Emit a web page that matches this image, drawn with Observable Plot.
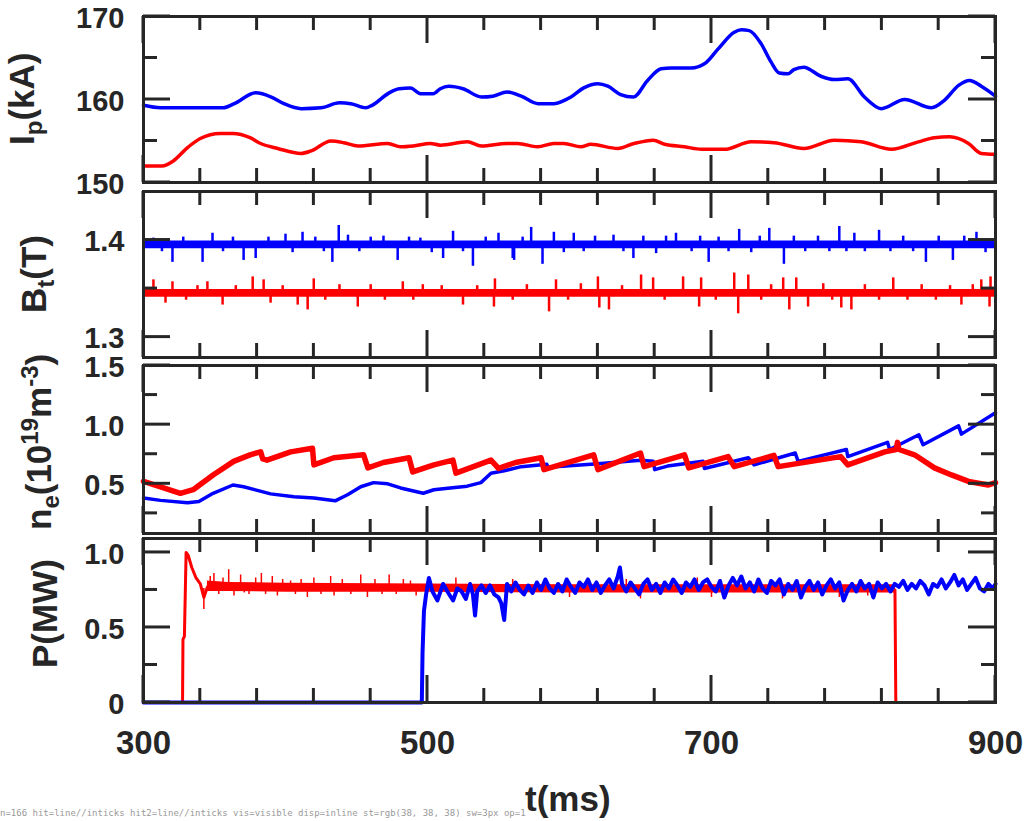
<!DOCTYPE html>
<html><head><meta charset="utf-8">
<script src="https://cdn.jsdelivr.net/npm/d3@7"></script>
<script src="https://cdn.jsdelivr.net/npm/@observablehq/plot@0.6"></script>
<style>
html,body{margin:0;background:#fff;overflow:hidden;}
#chart{position:relative;width:1025px;height:821px;font-family:"Liberation Sans",Arial,sans-serif;color:#262626;}
#chart svg{position:absolute;left:0;overflow:visible;}
.ytitle{position:absolute;font:bold 35px "Liberation Sans",Arial,sans-serif;color:#262626;white-space:nowrap;transform-origin:0 0;line-height:1;}
.ytitle sub,.ytitle sup{font-size:24px;line-height:0;}
#dbg{position:absolute;left:0;top:808px;font:9px monospace;color:#999;white-space:nowrap;}
</style></head><body><div id="chart"></div>
<script>
// ---------- data ----------
const xMajor = [300, 500, 700, 900];
const xMinor = [340, 380, 420, 460, 540, 580, 620, 660, 740, 780, 820, 860];
const xTickText = ["300", "500", "700", "900"];

const ipBlue = [[300,159.3],[312,159.0],[356,159.0],[364,159.5],[379,160.8],[390,160.3],[399,159.5],[411,158.9],[425,159.0],[438,159.6],[446,159.5],[456.5,159.0],[461,159.3],[473,160.8],[480,161.3],[488,161.4],[495,160.7],[504,160.7],[509,161.3],[515,161.6],[525,161.3],[538,160.3],[546,160.4],[556,160.9],[566,160.4],[578,159.5],[589,159.5],[601,160.3],[610,161.4],[620,161.9],[627,161.6],[636,160.6],[645,160.3],[655,162.3],[664.5,163.7],[671.5,163.8],[685.7,163.8],[695,164.3],[704.7,166.1],[716,168.1],[721,168.4],[726.6,168.3],[735,166.7],[742,164.5],[747.7,163.2],[754,163.1],[758,163.6],[765,163.9],[777,162.8],[786.5,162.4],[796,162.5],[807.7,160.3],[819.6,158.9],[836,160.0],[855,159.0],[864,159.9],[874,161.7],[881.7,162.3],[890,161.6],[900,160.4]];
const ipRed = [[300,152.0],[313,152.0],[321,152.6],[331,154.2],[340,155.3],[354,155.9],[363,155.9],[375,155.4],[382.5,154.7],[394.5,154.1],[411,153.5],[418,153.8],[432,155.0],[441,154.8],[451,154.4],[472,154.7],[481,154.3],[490,154.4],[502,154.7],[509,154.5],[528,154.9],[538,154.4],[556,154.7],[563.5,154.7],[577.5,154.3],[589,154.7],[596,154.7],[608,154.3],[615,154.6],[634,154.1],[645.5,154.7],[659,155.1],[667,154.6],[681,154.3],[693,154.0],[709,154.0],[728,154.9],[744,154.8],[765,154.1],[786.5,155.1],[805.5,154.9],[826.7,154.0],[845.7,154.9],[857,155.4],[867.6,155.5],[881,154.7],[890,153.5],[900,153.4]];
const ipTicks = [150, 160, 170];
const ipMinor = [155, 165];
const ipTickText = ["150", "160", "170"];

const btBlueBand = [1.391, 1.399];
const btRedBand = [1.341, 1.349];
const btBlueSpikes = [[307,1.402],[313,1.388],[320.4,1.377],[328,1.403],[341.6,1.377],[348.6,1.407],[356,1.388],[363,1.403],[370.5,1.379],[379,1.381],[388,1.403],[400,1.406],[405,1.387],[412,1.408],[421,1.403],[427,1.388],[433,1.377],[437.5,1.415],[444,1.405],[452,1.388],[460,1.403],[469,1.404],[479,1.379],[487,1.403],[495,1.402],[503,1.387],[511,1.381],[518,1.409],[525,1.388],[532,1.373],[541,1.403],[550,1.407],[560,1.381],[561,1.379],[567,1.403],[573,1.413],[581,1.375],[589,1.408],[596,1.387],[603,1.407],[610,1.388],[618,1.404],[631,1.405],[638,1.388],[645,1.381],[652,1.404],[661,1.386],[668,1.404],[675,1.407],[686,1.388],[692,1.404],[698,1.377],[705,1.403],[712,1.388],[719.5,1.411],[728,1.387],[734,1.404],[740.7,1.412],[751,1.375],[758,1.404],[766,1.388],[775,1.404],[783,1.388],[790,1.414],[795,1.388],[800.6,1.407],[808,1.388],[818,1.410],[826,1.388],[835,1.404],[842,1.388],[851,1.377],[860,1.404],[870,1.379],[878,1.404],[886.6,1.408],[893,1.387]];
const btRedSpikes = [[307,1.359],[315.5,1.335],[320.4,1.357],[330,1.338],[338,1.353],[345,1.357],[355.7,1.333],[365,1.353],[376.9,1.362],[384.6,1.359],[389.5,1.335],[398,1.353],[408.6,1.333],[415.6,1.328],[419.9,1.360],[428,1.338],[438,1.354],[450.9,1.331],[460,1.354],[470,1.338],[482.6,1.357],[490,1.338],[496.7,1.354],[510,1.353],[525,1.333],[535,1.353],[546.8,1.331],[547.5,1.360],[560,1.338],[570,1.354],[585.6,1.326],[590.5,1.359],[599,1.338],[608,1.355],[620,1.362],[621,1.330],[627.8,1.328],[637,1.353],[650.4,1.364],[658.9,1.361],[667,1.338],[680,1.362],[691.3,1.331],[692.7,1.361],[703,1.338],[716,1.366],[718.8,1.324],[725.9,1.364],[735,1.338],[742,1.354],[750.5,1.361],[754.8,1.328],[759.7,1.361],[768,1.331],[778.7,1.355],[785,1.338],[791.4,1.330],[798.5,1.328],[808,1.354],[818,1.338],[828,1.361],[838,1.338],[848,1.354],[858,1.338],[868,1.353],[876,1.333],[884,1.354],[890,1.359],[895.8,1.331],[896.5,1.362]];
const btTicks = [1.3, 1.4];
const btMinor = [1.35];
const btTickText = ["1.3", "1.4"];

const neBlue = [[300,0.38],[312,0.36],[331,0.34],[339,0.35],[349,0.42],[363,0.49],[370.5,0.475],[389.5,0.415],[406,0.39],[420,0.38],[435,0.356],[444,0.41],[453,0.475],[462,0.51],[472,0.50],[481,0.465],[497,0.42],[504.5,0.45],[516,0.465],[528,0.48],[537.6,0.51],[544.7,0.59],[554,0.61],[566,0.645],[584,0.665],[585,0.64],[620,0.67],[650,0.70],[659,0.69],[660,0.62],[669,0.65],[694,0.69],[695,0.63],[726,0.72],[730,0.66],[759,0.76],[761,0.69],[795,0.79],[796,0.73],[824,0.85],[825.5,0.79],[846,0.915],[849,0.83],[874,0.99],[876,0.92],[900,1.10]];
const neRed = [[300,0.52],[312,0.475],[326,0.42],[335,0.45],[349,0.575],[363.5,0.69],[375,0.745],[382.5,0.77],[384,0.71],[387,0.70],[403.6,0.77],[419,0.80],[420,0.66],[434,0.72],[455,0.745],[458,0.635],[469,0.68],[487,0.72],[489.6,0.60],[504.5,0.66],[517.9,0.70],[520,0.59],[544.7,0.70],[550,0.63],[562,0.68],[580,0.72],[582,0.62],[617,0.745],[620,0.62],[650,0.76],[652.5,0.645],[681,0.745],[684,0.635],[711.7,0.73],[716,0.645],[744,0.74],[747,0.645],[791,0.73],[796,0.66],[822,0.77],[830,0.79],[831,0.85],[832,0.79],[843,0.745],[857,0.635],[869,0.575],[881,0.52],[895,0.49],[900,0.51]];
const neTicks = [0.5, 1.0, 1.5];
const neMinor = [0.25, 0.75, 1.25];
const neTickText = ["0.5", "1.0", "1.5"];

const pRedRise = [[300,0],[327.5,0],[327.8,0.42],[328.8,0.44],[330,1.0],[331.5,0.98],[334,0.90],[337,0.83],[340,0.79],[342.5,0.70],[345,0.77]];
const pRedBand = [[345,0.74,0.81],[360,0.74,0.80],[400,0.735,0.795],[500,0.735,0.79],[600,0.73,0.785],[829.5,0.73,0.785]];
const pRedSpikes = [[342.5,0.62],[347,0.84],[349.6,0.86],[353,0.72],[356,0.83],[360,0.885],[363.7,0.71],[368.4,0.85],[371,0.73],[374.3,0.72],[379,0.83],[383,0.86],[386,0.72],[390.7,0.84],[394.3,0.71],[398,0.82],[403.6,0.81],[407,0.72],[411,0.82],[415.4,0.70],[420,0.83],[425,0.72],[431.8,0.84],[434.2,0.71],[440,0.82],[446,0.72],[453,0.85],[457.7,0.70],[463,0.82],[468,0.72],[473,0.85],[478,0.72],[483,0.82],[488,0.81],[492,0.71],[520,0.83],[560,0.82],[600,0.70],[640,0.82],[650,0.69],[690,0.83],[700,0.70],[750,0.69],[790,0.70],[810,0.71]];
const pRedEnd = [[829.2,0.75],[829.8,0],[900,0]];
const pBlue = [[300,0],[496,0],[496.5,0.33],[497.5,0.61],[499,0.72],[501,0.83],[503.5,0.74],[507,0.68],[511,0.79],[514,0.74],[518,0.68],[521,0.76],[524,0.74],[527,0.69],[530,0.79],[532,0.72],[533.5,0.58],[535,0.74],[538,0.78],[541,0.73],[544,0.78],[547,0.72],[550,0.70],[552,0.66],[554,0.55],[556,0.79],[559,0.74],[562,0.80],[565,0.75],[568,0.72],[571,0.78],[574,0.73],[577,0.80],[580,0.75],[583,0.82],[586,0.76],[589,0.73],[592,0.79],[595,0.74],[598,0.82],[601,0.77],[604,0.73],[607,0.80],[610,0.77],[613,0.82],[616,0.75],[619,0.80],[622,0.73],[625,0.78],[628,0.82],[631,0.76],[634,0.84],[635.5,0.90],[637,0.79],[640,0.74],[643,0.80],[646,0.76],[649,0.72],[652,0.79],[655,0.82],[658,0.75],[661,0.79],[664,0.73],[667,0.80],[670,0.76],[673,0.82],[676,0.78],[679,0.73],[682,0.80],[685,0.77],[688,0.82],[691,0.75],[694,0.80],[697,0.82],[700,0.77],[703,0.74],[706,0.81],[709,0.70],[712,0.78],[715,0.83],[718,0.78],[721,0.84],[724,0.76],[727,0.80],[730,0.74],[733,0.82],[736,0.76],[739,0.73],[742,0.81],[745,0.78],[748,0.82],[751,0.72],[754,0.79],[757,0.75],[760,0.81],[763,0.70],[766,0.77],[769,0.81],[772,0.75],[775,0.80],[778,0.72],[781,0.78],[784,0.82],[787,0.76],[790,0.80],[793,0.68],[796,0.75],[799,0.79],[802,0.74],[805,0.81],[808,0.76],[811,0.79],[814,0.70],[817,0.80],[820,0.76],[823,0.79],[826,0.74],[829,0.79],[832,0.77],[835,0.81],[838,0.75],[841,0.79],[844,0.76],[847,0.81],[850,0.78],[853,0.72],[856,0.79],[859,0.77],[862,0.82],[865,0.76],[868,0.80],[871,0.85],[874,0.78],[877,0.82],[880,0.75],[883,0.79],[886,0.83],[889,0.76],[892,0.74],[895,0.79],[898,0.76],[900,0.79]];
const pTicks = [0, 0.5, 1.0];
const pMinor = [0.25, 0.75];
const pTickText = ["0", "0.5", "1.0"];

// ---------- drawing ----------
const INK = "#262626", BLUE = "#0000ff", RED = "#ff0000";
const W = 1025, ML = 143, MR = 30, innerW = W - ML - MR;
const X0 = xMajor[0], X1 = xMajor[xMajor.length - 1];
const FONT = "'Liberation Sans', Arial, sans-serif";
const chart = document.getElementById("chart");
const panels = [];

function panel({top, frameH, mb = 4, yDomain, yMaj, yMin, yText, marks, xAxis = false}) {
  const mt = 4;
  const all = [
    ...marks,
    Plot.frame({stroke: INK, strokeWidth: 3}),
    Plot.axisY(yMaj, {tickSize: 0, tickPadding: 19, label: null, fontSize: 29, fontWeight: "bold", dy: 2,
      tickFormat: d => yText[yMaj.indexOf(d)]})
  ];
  if (xAxis) all.push(Plot.axisX(xMajor, {tickSize: 0, tickPadding: 28, label: null, fontSize: 33, fontWeight: "bold",
      tickFormat: d => xTickText[xMajor.indexOf(d)]}));
  const svg = Plot.plot({
    width: W, height: frameH + mt + mb,
    marginLeft: ML, marginRight: MR, marginTop: mt, marginBottom: mb,
    x: {domain: [X0, X1], axis: null},
    y: {domain: yDomain, axis: null},
    style: {fontFamily: FONT, color: INK, background: "transparent", overflow: "visible"},
    marks: all
  });
  const offset = top - mt;
  svg.style.top = offset + "px";
  chart.appendChild(svg);
  // inward ticks on four sides via the plot's own scales
  const sx = svg.scale("x"), sy = svg.scale("y");
  const x0 = ML, x1 = W - MR, y0 = mt, y1 = mt + frameH;
  const g = d3.select(svg).append("g").attr("class", "inticks").attr("stroke", INK).attr("stroke-width", 3);
  const seg = (xa, ya, xb, yb) => g.append("line").attr("x1", xa).attr("y1", ya).attr("x2", xb).attr("y2", yb);
  for (const [vals, len] of [[xMajor, 27], [xMinor, 14]]) for (const v of vals) {
    const px = sx.apply(v);
    seg(px, y0, px, y0 + len); seg(px, y1, px, y1 - len);
  }
  for (const [vals, len] of [[yMaj, 27], [yMin, 14]]) for (const v of vals) {
    const py = sy.apply(v);
    seg(x0, py, x0 + len, py); seg(x1, py, x1 - len, py);
  }
  panels.push(svg);
  return {svg, offset};
}

panel({top: 16, frameH: 166, yDomain: [150, 170], yMaj: ipTicks, yMin: ipMinor, yText: ipTickText, marks: [
  Plot.line(ipRed, {x: d => d[0], y: d => d[1], stroke: RED, strokeWidth: 3.5, curve: "monotone-x"}),
  Plot.line(ipBlue, {x: d => d[0], y: d => d[1], stroke: BLUE, strokeWidth: 3.5, curve: "monotone-x"})
]});
panel({top: 191, frameH: 166, yDomain: [1.279, 1.45], yMaj: btTicks, yMin: btMinor, yText: btTickText, marks: [
  Plot.areaY([X0, X1], {x: d => d, y1: btBlueBand[0], y2: btBlueBand[1], fill: BLUE}),
  Plot.ruleX(btBlueSpikes, {x: d => d[0], y1: (btBlueBand[0] + btBlueBand[1]) / 2, y2: d => d[1], stroke: BLUE, strokeWidth: 2.5}),
  Plot.areaY([X0, X1], {x: d => d, y1: btRedBand[0], y2: btRedBand[1], fill: RED}),
  Plot.ruleX(btRedSpikes, {x: d => d[0], y1: (btRedBand[0] + btRedBand[1]) / 2, y2: d => d[1], stroke: RED, strokeWidth: 2.5})
]});
panel({top: 365, frameH: 168, yDomain: [0.08, 1.5], yMaj: neTicks, yMin: neMinor, yText: neTickText, marks: [
  Plot.line(neBlue, {x: d => d[0], y: d => d[1], stroke: BLUE, strokeWidth: 3.5}),
  Plot.line(neRed, {x: d => d[0], y: d => d[1], stroke: RED, strokeWidth: 5.5})
]});
panel({top: 538, frameH: 164, mb: 115, yDomain: [0, 1.093], yMaj: pTicks, yMin: pMinor, yText: pTickText, xAxis: true, marks: [
  Plot.areaY(pRedBand, {x: d => d[0], y1: d => d[1], y2: d => d[2], fill: RED}),
  Plot.ruleX(pRedSpikes, {x: d => d[0], y1: 0.76, y2: d => d[1], stroke: RED, strokeWidth: 1.5}),
  Plot.line(pRedRise, {x: d => d[0], y: d => d[1], stroke: RED, strokeWidth: 3}),
  Plot.line(pRedEnd, {x: d => d[0], y: d => d[1], stroke: RED, strokeWidth: 3}),
  Plot.line(pBlue, {x: d => d[0], y: d => d[1], stroke: BLUE, strokeWidth: 4})
]});

// ---------- axis titles as HTML text (rotated) ----------
function htitle(html, cx, cy, rotate = true) {
  const d = document.createElement("div");
  d.className = "ytitle";
  d.innerHTML = html;
  chart.appendChild(d);
  const w = d.offsetWidth, h = d.offsetHeight;
  if (rotate) {
    // baseline-ish at x=cx, centred on y=cy
    d.style.left = (cx - h * 0.8) + "px";
    d.style.top = (cy + w / 2) + "px";
    d.style.transform = "rotate(-90deg)";
  } else {
    d.style.left = (cx - w / 2) + "px";
    d.style.top = (cy - h * 0.8) + "px";
  }
}
htitle("I<sub>p</sub>(kA)", 32, 99);
htitle("B<sub>t</sub>(T)", 44, 274);
htitle("n<sub>e</sub>(10<sup>19</sup>m<sup>-3</sup>)", 49, 442);
htitle("P(MW)", 55, 613);
htitle("t(ms)", 568, 809, false);

// small diagnostic readout
const nl = document.querySelectorAll("g.inticks line").length;
const hit = document.elementFromPoint(427, 30);
const hit2 = document.elementFromPoint(200, 180);
const desc = e => e ? (e.tagName + "/" + (e.getAttribute && (e.getAttribute("aria-label") || e.getAttribute("class") || "")) + "/" + (e.parentNode && e.parentNode.getAttribute ? (e.parentNode.getAttribute("aria-label") || e.parentNode.getAttribute("class") || e.parentNode.tagName) : "")) : "null";
const cs = getComputedStyle(document.querySelector("g.inticks line"));
const dbg = document.createElement("div");
dbg.id = "dbg";
dbg.textContent = "n=" + nl + " hit=" + desc(hit) + " hit2=" + desc(hit2) + " vis=" + cs.visibility + " disp=" + cs.display + " st=" + cs.stroke + " sw=" + cs.strokeWidth + " op=" + cs.opacity;
chart.appendChild(dbg);
</script></body></html>
